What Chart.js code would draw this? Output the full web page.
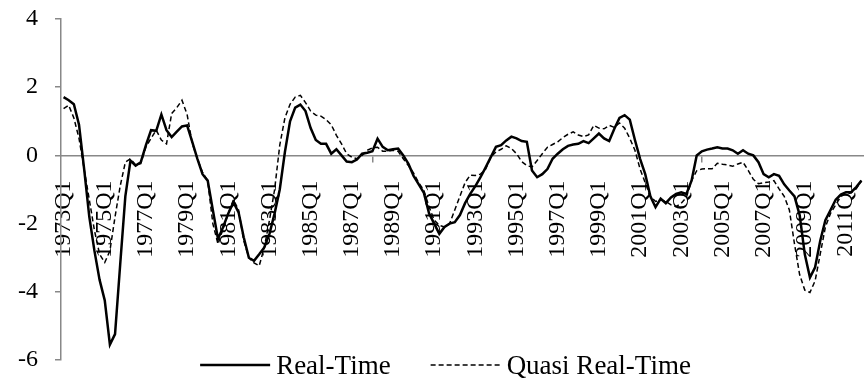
<!DOCTYPE html>
<html>
<head>
<meta charset="utf-8">
<script src="https://cdn.jsdelivr.net/npm/chart.js@4/dist/chart.umd.min.js"></script>
<style>
  html, body { margin: 0; padding: 0; background: #fff; }
  #wrap { width: 864px; height: 384px; }
</style>
</head>
<body>
<div id="wrap"><canvas id="gapChart"></canvas></div>
<script>
// quarterly categories 1973Q1 .. 2011Q4
const startYear = 1973;
const endYear = 2011;
const quarters = [];
for (let y = startYear; y <= endYear; y++) {
    for (let q = 1; q <= 4; q++) quarters.push(y + 'Q' + q);
}

const yTicks = [-6, -4, -2, 0, 2, 4];
const seriesNames = ['Real-Time', 'Quasi Real-Time'];

const realTime = [
    1.71, 1.62, 1.50, 0.90, -0.40, -1.80, -2.80, -3.65, -4.25, -5.55,
    -5.24, -3.20, -1.20, -0.15, -0.30, -0.20, 0.30, 0.74, 0.72, 1.20,
    0.74, 0.54, 0.70, 0.85, 0.88, 0.40, -0.10, -0.55, -0.74, -1.60,
    -2.45, -2.10, -1.70, -1.37, -1.67, -2.40, -3.00, -3.09, -2.90, -2.70,
    -2.30, -1.70, -1.00, 0.10, 1.00, 1.40, 1.49, 1.30, 0.80, 0.45,
    0.34, 0.34, 0.05, 0.18, 0.00, -0.18, -0.20, -0.12, 0.05, 0.08,
    0.12, 0.49, 0.25, 0.15, 0.18, 0.20, 0.00, -0.25, -0.60, -0.85,
    -1.10, -1.70, -2.00, -2.30, -2.10, -2.00, -1.96, -1.75, -1.40, -1.13,
    -0.90, -0.64, -0.35, -0.05, 0.25, 0.30, 0.44, 0.55, 0.50, 0.42,
    0.40, -0.44, -0.64, -0.55, -0.40, -0.10, 0.05, 0.18, 0.28, 0.32,
    0.34, 0.42, 0.36, 0.50, 0.64, 0.50, 0.42, 0.78, 1.10, 1.18,
    1.05, 0.45, -0.10, -0.55, -1.20, -1.52, -1.27, -1.40, -1.23, -1.13,
    -1.08, -1.13, -0.74, 0.00, 0.12, 0.17, 0.20, 0.24, 0.20, 0.20,
    0.15, 0.05, 0.15, 0.05, 0.00, -0.20, -0.55, -0.64, -0.55, -0.60,
    -0.85, -1.03, -1.20, -1.75, -2.90, -3.58, -3.28, -2.50, -1.90, -1.60,
    -1.30, -1.15, -1.08, -1.08, -0.93, -0.74
];

const quasiRealTime = [
    1.37, 1.47, 1.10, 0.50, -0.40, -1.30, -2.20, -2.90, -3.14, -2.80,
    -1.80, -0.90, -0.20, -0.10, -0.28, -0.24, 0.25, 0.50, 0.74, 0.45,
    0.34, 1.23, 1.40, 1.62, 1.20, 0.35, -0.10, -0.50, -0.75, -2.00,
    -2.60, -2.15, -1.70, -1.30, -1.60, -2.50, -3.00, -3.15, -3.24, -2.70,
    -1.90, -1.00, 0.30, 1.10, 1.50, 1.71, 1.76, 1.55, 1.30, 1.18,
    1.15, 1.05, 0.90, 0.59, 0.34, 0.05, -0.05, -0.10, 0.00, 0.15,
    0.22, 0.24, 0.12, 0.12, 0.15, 0.12, -0.10, -0.30, -0.52, -0.80,
    -1.03, -1.50, -1.90, -2.05, -2.10, -2.00, -1.60, -1.20, -0.80, -0.58,
    -0.59, -0.55, -0.40, -0.05, 0.10, 0.18, 0.28, 0.20, 0.05, -0.18,
    -0.30, -0.34, -0.15, 0.05, 0.24, 0.32, 0.40, 0.52, 0.62, 0.69,
    0.60, 0.55, 0.60, 0.88, 0.80, 0.78, 0.88, 0.82, 0.95, 0.80,
    0.50, 0.15, -0.40, -0.80, -1.20, -1.35, -1.30, -1.35, -1.45, -1.50,
    -1.40, -1.23, -0.74, -0.45, -0.40, -0.39, -0.39, -0.23, -0.26, -0.28,
    -0.32, -0.25, -0.20, -0.44, -0.70, -0.83, -0.80, -0.78, -0.74, -0.98,
    -1.20, -1.60, -2.60, -3.50, -3.95, -4.02, -3.68, -2.89, -2.10, -1.70,
    -1.45, -1.20, -1.13, -1.10, -0.98, -0.74
];

const labelEvery = 8;
const axisGray = '#888888';
const fontFamily = "'Liberation Serif', 'Times New Roman', serif";

// legend drawn below the plot, overlapping its bottom margin like the original
const lineLegend = {
    id: 'lineLegend',
    afterDraw(chart) {
        const ctx = chart.ctx;
        ctx.save();
        ctx.font = '27px ' + fontFamily;
        ctx.textBaseline = 'middle';
        ctx.fillStyle = '#000';
        const sample = 70, gap = 6, between = 40;
        const widths = chart.data.datasets.map(d => ctx.measureText(d.label).width);
        const total = widths.reduce((a, w) => a + sample + gap + w, 0) + between * (widths.length - 1);
        let x = (chart.chartArea.left + chart.chartArea.right) / 2 - 17 - total / 2;
        const y = 365;
        chart.data.datasets.forEach((d, i) => {
            ctx.beginPath();
            ctx.lineWidth = d.borderWidth;
            ctx.strokeStyle = d.borderColor;
            ctx.setLineDash(d.borderDash || []);
            ctx.moveTo(x, y);
            ctx.lineTo(x + sample, y);
            ctx.stroke();
            ctx.setLineDash([]);
            ctx.fillText(d.label, x + sample + gap, y + 2);
            x += sample + gap + widths[i] + between;
        });
        ctx.restore();
    }
};

var ctx = document.getElementById('gapChart').getContext('2d');
new Chart(ctx, {
    type: 'line',
    data: {
        labels: quarters,
        datasets: [
            {
                label: seriesNames[0],
                data: realTime,
                borderColor: '#000',
                backgroundColor: 'transparent',
                borderWidth: 2.5,
                pointRadius: 0,
                tension: 0,
                fill: false
            },
            {
                label: seriesNames[1],
                data: quasiRealTime,
                borderColor: '#000',
                backgroundColor: 'transparent',
                borderWidth: 1.5,
                borderDash: [5, 3],
                pointRadius: 0,
                tension: 0,
                fill: false
            }
        ]
    },
    options: {
        responsive: true,
        maintainAspectRatio: false,
        animation: false,
        layout: { padding: { left: 1, top: 19, right: 0, bottom: 24 } },
        plugins: {
            legend: { display: false },
            tooltip: { enabled: false }
        },
        scales: {
            x: {
                type: 'category',
                position: { y: 0 },
                offset: true,
                border: { color: axisGray, width: 1.5 },
                grid: {
                    offset: true,
                    drawOnChartArea: false,
                    drawTicks: true,
                    tickLength: 6,
                    lineWidth: 1.5,
                    tickColor: (c) => (c.index % labelEvery === 0 ? axisGray : 'rgba(0,0,0,0)')
                },
                ticks: {
                    autoSkip: false,
                    minRotation: 90,
                    maxRotation: 90,
                    padding: 19,
                    color: '#000',
                    font: { family: fontFamily, size: 24 },
                    callback: function (value, index) {
                        return index % labelEvery === 0 ? this.getLabelForValue(value) : null;
                    }
                },
                afterFit: (scale) => { scale.paddingLeft = 0; scale.paddingRight = 0; }
            },
            y: {
                min: yTicks[0],
                max: yTicks[yTicks.length - 1],
                border: { color: axisGray, width: 1.5 },
                grid: {
                    drawOnChartArea: false,
                    drawTicks: true,
                    tickLength: 6,
                    color: axisGray,
                    lineWidth: 1.5
                },
                afterBuildTicks: (scale) => { scale.ticks = yTicks.map(v => ({ value: v })); },
                ticks: {
                    padding: 17,
                    color: '#000',
                    font: { family: fontFamily, size: 24 }
                },
                afterFit: (scale) => { scale.paddingTop = 0; scale.paddingBottom = 0; }
            }
        }
    },
    plugins: [lineLegend]
});
</script>
</body>
</html>
